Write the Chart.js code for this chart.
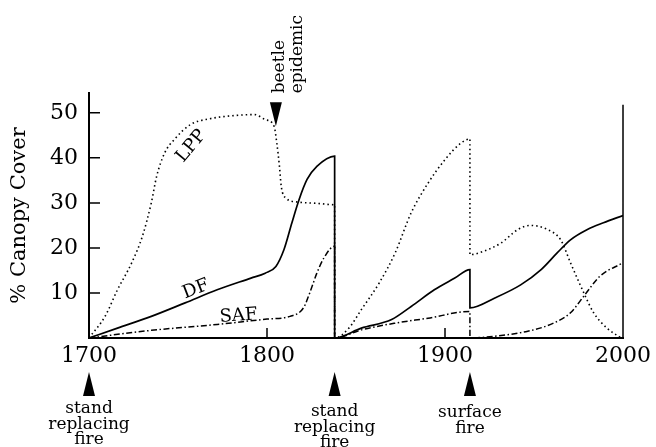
<!DOCTYPE html>
<html>
<head>
<meta charset="utf-8">
<script src="https://cdn.jsdelivr.net/npm/chart.js@4.4.1/dist/chart.umd.min.js"></script>
<style>
  html, body { margin: 0; padding: 0; background: #fff; }
  #wrap { width: 656px; height: 447px; }
</style>
</head>
<body>
<div id="wrap"><canvas id="coverChart" width="656" height="447"></canvas></div>
<script>
// % canopy cover by year
const lppYears = [1700, 1709, 1716, 1724, 1730, 1735, 1738, 1742.5, 1748, 1757, 1768, 1782, 1793, 1799, 1804, 1805.5, 1807, 1808, 1810.5, 1817, 1828, 1838,
                  1838, 1846, 1853, 1863, 1872, 1881, 1890.5, 1900, 1909, 1914,
                  1914, 1922, 1931.5, 1941, 1948, 1957.5, 1965, 1970.5, 1978, 1983.5, 1991, 1999];
const lppCover = [0, 4.8, 10.7, 16.7, 22.6, 30, 35.9, 41.1, 44.1, 47.4, 48.7, 49.4, 49.6, 48.5, 47, 43.3, 38.1, 33.7, 31.1, 30.2, 29.9, 29.6,
                  0, 2.2, 6.3, 12.2, 18.9, 27.8, 34.4, 39.6, 43.3, 44.2,
                  18.5, 19.3, 21.1, 24.1, 25, 24.1, 21.8, 16.7, 10, 5.6, 2.2, 0];

const dfYears = [1700, 1716, 1735, 1754, 1772, 1791, 1799, 1805, 1809.5, 1814, 1818, 1822.5, 1828, 1838,
                 1838, 1853, 1870, 1881, 1894, 1905.5, 1914,
                 1914, 1928, 1942.5, 1954, 1963, 1970.5, 1980, 1989, 2000];
const dfCover = [0, 2.2, 4.8, 7.8, 10.7, 13.3, 14.4, 15.9, 19.6, 25.6, 30.7, 35.2, 38.1, 40.4,
                 0, 2.2, 4.1, 7, 10.7, 13.3, 15.2,
                 6.7, 8.9, 11.8, 15.2, 18.9, 21.8, 24.1, 25.6, 27.2];

const safYears = [1700, 1735, 1772, 1800, 1813, 1820.5, 1824, 1828, 1832, 1838,
                  1838, 1853, 1872, 1890.5, 1914,
                  1914, 1928, 1946.5, 1961, 1970.5, 1978, 1987, 2000];
const safCover = [0, 1.7, 3.0, 4.2, 4.8, 6.7, 10, 14.4, 17.8, 20.4,
                  0, 1.8, 3.3, 4.4, 5.9,
                  0, 0.4, 1.5, 3.3, 5.6, 9.3, 13.7, 16.7];

const xTicks = [1700, 1800, 1900, 2000];
const yTicks = [10, 20, 30, 40, 50];
const yMax = 54.4;
const frameTop = 51.8;   // right-hand border stops a bit below the y axis top

// disturbance events under the axis
const events = [
  { year: 1700, lines: ['stand', 'replacing', 'fire'], dy: 0 },
  { year: 1838, lines: ['stand', 'replacing', 'fire'], dy: 3 },
  { year: 1914, lines: ['surface', 'fire'], dy: 4 }
];
const beetle = { year: 1805, cover: 47, lines: ['beetle', 'epidemic'] };

// species labels drawn along the curves
const curveLabels = [
  { text: 'LPP', year: 1757.5, cover: 42.6, angle: -50 },
  { text: 'DF', year: 1760, cover: 10.8, angle: -21 },
  { text: 'SAF', year: 1784, cover: 4.9, angle: -4 }
];

const FONT = "'DejaVu Serif', 'Liberation Serif', serif";

function zip(xs, ys) {
  return xs.map((x, i) => ({ x: x, y: ys[i] }));
}

const extras = {
  id: 'extras',
  afterDatasetsDraw(chart) {
    const { ctx, chartArea, scales: { x, y } } = chart;
    ctx.save();
    ctx.strokeStyle = '#000';
    ctx.fillStyle = '#000';

    // inward tick marks + right border
    ctx.lineWidth = 1.5;
    ctx.beginPath();
    y.ticks.forEach(t => {
      const py = y.getPixelForValue(t.value);
      ctx.moveTo(chartArea.left, py);
      ctx.lineTo(chartArea.left + 11, py);
    });
    x.ticks.forEach(t => {
      const px = x.getPixelForValue(t.value);
      ctx.moveTo(px, chartArea.bottom);
      ctx.lineTo(px, chartArea.bottom - 10);
    });
    const rx = x.getPixelForValue(xTicks[xTicks.length - 1]);
    ctx.moveTo(rx, y.getPixelForValue(0));
    ctx.lineTo(rx, y.getPixelForValue(frameTop));
    ctx.stroke();

    // curve labels
    ctx.font = '18px ' + FONT;
    ctx.textAlign = 'center';
    ctx.textBaseline = 'middle';
    curveLabels.forEach(l => {
      ctx.save();
      ctx.translate(x.getPixelForValue(l.year), y.getPixelForValue(l.cover));
      ctx.rotate(l.angle * Math.PI / 180);
      ctx.fillText(l.text, 0, 0);
      ctx.restore();
    });

    // event arrows and text below the axis
    ctx.font = '17px ' + FONT;
    ctx.textBaseline = 'alphabetic';
    events.forEach(ev => {
      const px = x.getPixelForValue(ev.year);
      const top = chartArea.bottom + 34;
      ctx.beginPath();
      ctx.moveTo(px, top);
      ctx.lineTo(px + 6, top + 24);
      ctx.lineTo(px - 6, top + 24);
      ctx.closePath();
      ctx.fill();
      ev.lines.forEach((s, i) => {
        ctx.fillText(s, px, chartArea.bottom + 75 + ev.dy + i * 15.5);
      });
    });

    // beetle epidemic arrow and vertical text
    const bx = x.getPixelForValue(beetle.year);
    const tip = y.getPixelForValue(beetle.cover);
    ctx.beginPath();
    ctx.moveTo(bx, tip);
    ctx.lineTo(bx + 6, tip - 24);
    ctx.lineTo(bx - 6, tip - 24);
    ctx.closePath();
    ctx.fill();
    ctx.textAlign = 'left';
    ctx.textBaseline = 'middle';
    beetle.lines.forEach((s, i) => {
      ctx.save();
      ctx.translate(bx + 4 + i * 18, tip - 33);
      ctx.rotate(-Math.PI / 2);
      ctx.fillText(s, 0, 0);
      ctx.restore();
    });
    ctx.restore();
  }
};

new Chart(document.getElementById('coverChart'), {
  type: 'line',
  data: {
    datasets: [
      {
        label: 'LPP',
        data: zip(lppYears, lppCover),
        borderColor: '#000',
        borderWidth: 1.6,
        borderDash: [1.5, 3],
        pointRadius: 0,
        cubicInterpolationMode: 'monotone',
        fill: false
      },
      {
        label: 'SAF',
        data: zip(safYears, safCover),
        borderColor: '#000',
        borderWidth: 1.5,
        borderDash: [6, 2.5, 1.5, 2.5],
        pointRadius: 0,
        cubicInterpolationMode: 'monotone',
        fill: false
      },
      {
        label: 'DF',
        data: zip(dfYears, dfCover),
        borderColor: '#000',
        borderWidth: 1.7,
        pointRadius: 0,
        cubicInterpolationMode: 'monotone',
        fill: false
      }
    ]
  },
  options: {
    responsive: false,
    animation: false,
    layout: { padding: { top: 93, right: 30, left: 0, bottom: 0 } },
    plugins: {
      legend: { display: false },
      tooltip: { enabled: false }
    },
    scales: {
      x: {
        type: 'linear',
        min: 1700,
        max: 2000,
        afterBuildTicks: s => { s.ticks = xTicks.map(v => ({ value: v })); },
        afterFit: s => { s.height = 109; },
        grid: { display: false, drawTicks: false },
        border: { display: true, color: '#000', width: 2 },
        ticks: {
          color: '#000',
          padding: 5,
          font: { family: FONT, size: 22 },
          callback: v => String(v)
        }
      },
      y: {
        min: 0,
        max: yMax,
        afterBuildTicks: s => { s.ticks = yTicks.map(v => ({ value: v })); },
        afterFit: s => { s.width = 89; },
        grid: { display: false, drawTicks: false },
        border: { display: true, color: '#000', width: 2 },
        ticks: { color: '#000', padding: 11, font: { family: FONT, size: 22 } },
        title: {
          display: true,
          text: '% Canopy Cover',
          color: '#000',
          padding: { top: 7, bottom: 0 },
          font: { family: FONT, size: 21 }
        }
      }
    }
  },
  plugins: [extras]
});
</script>
</body>
</html>
